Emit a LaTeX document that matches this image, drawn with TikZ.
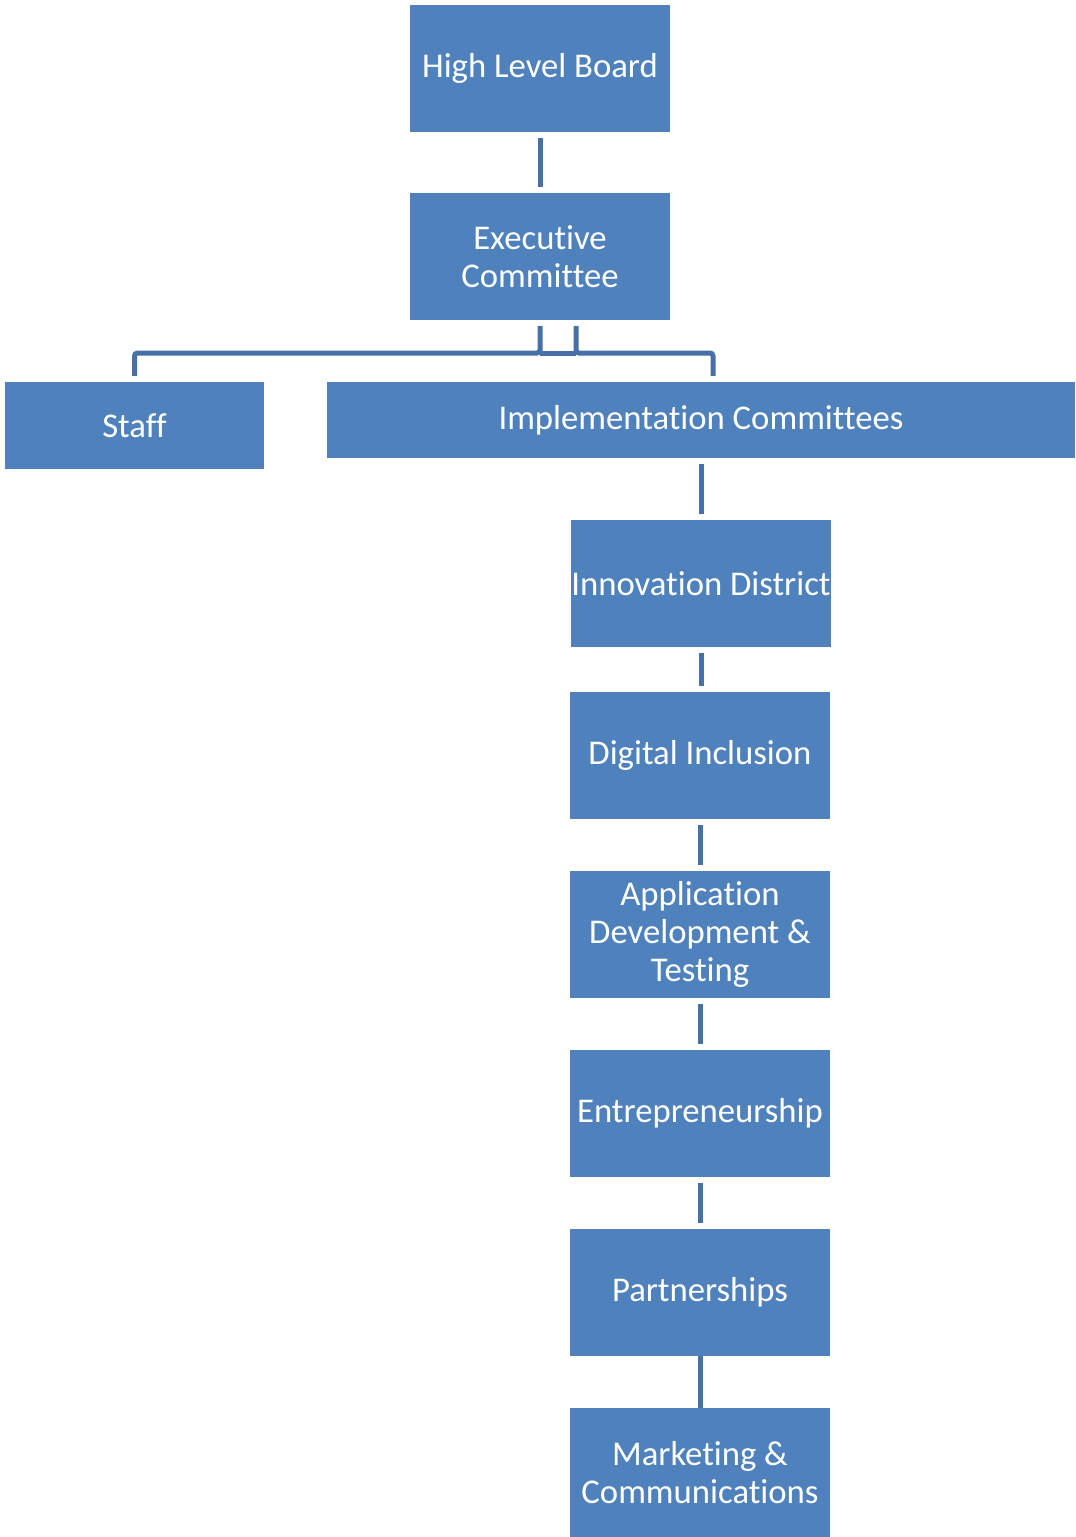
\documentclass[tikz,border=0pt]{standalone}
\usepackage{fontspec}
\setmainfont[Ligatures=NoCommon]{Carlito}
\usetikzlibrary{calc}
\definecolor{boxfill}{HTML}{4F81BD}
\definecolor{linecol}{RGB}{70,112,168}
\tikzset{
  orgbox/.style={fill=boxfill, draw=none, text=white, align=center, inner sep=0pt,
    font=\fontsize{34.7}{38}\selectfont},
  conn/.style={draw=linecol, line width=5pt},
  vconn/.style={conn, shorten <=6pt, shorten >=6pt}
}
\begin{document}
\begin{tikzpicture}[x=1pt,y=-1pt]
\useasboundingbox (0,0) rectangle (1076,1537);
\node[orgbox, minimum width=260pt, minimum height=127pt] (hlb) at (540,68) {High Level Board};
\node[orgbox, minimum width=260pt, minimum height=127pt] (exec) at (540,256.5) {Executive\\Committee};
\node[orgbox, minimum width=259pt, minimum height=87pt] (staff) at (134.5,425.5) {Staff};
\node[orgbox, minimum width=748pt, minimum height=76pt] (impl) at (701,420) {Implementation Committees};
\node[orgbox, minimum width=260pt, minimum height=127pt] (innov) at (701,583.5) {Innovation District};
\node[orgbox, minimum width=260pt, minimum height=127pt] (digital) at (700,755.5) {Digital Inclusion};
\node[orgbox, minimum width=260pt, minimum height=127pt] (app) at (700,934.5) {Application\\Development \&\\Testing};
\node[orgbox, minimum width=260pt, minimum height=127pt] (entre) at (700,1113.5) {Entrepreneurship};
\node[orgbox, minimum width=260pt, minimum height=127pt] (partner) at (700,1292.5) {Partnerships};
\node[orgbox, minimum width=260pt, minimum height=129pt] (market) at (700,1472.5) {Marketing \&\\Communications};

\draw[vconn] (hlb) -- (exec);
\coordinate (lc) at (134.5,353);
\coordinate (rc) at (713,353);
\draw[conn, rounded corners=3pt] ($(exec.south)+(0,6)$) -- (exec.south |- lc) -- (lc) -- ($(staff.north)+(0,-6)$);
\draw[conn, rounded corners=3pt] ($(exec.south)+(36,6)$) -- ($(exec.south |- rc)+(36,0)$) -- (rc) -- ($(rc |- impl.north)+(0,-6)$);
\draw[conn] (exec.south |- lc) -- ($(exec.south |- rc)+(36,0)$);
\draw[vconn] (impl.south) -- (innov.north);
\draw[vconn] (innov.south) -- (innov.south |- digital.north);
\draw[vconn] (digital) -- (app);
\draw[vconn] (app) -- (entre);
\draw[vconn] (entre) -- (partner);
\draw[conn] (partner.south) -- (market.north);
\end{tikzpicture}
\end{document}
